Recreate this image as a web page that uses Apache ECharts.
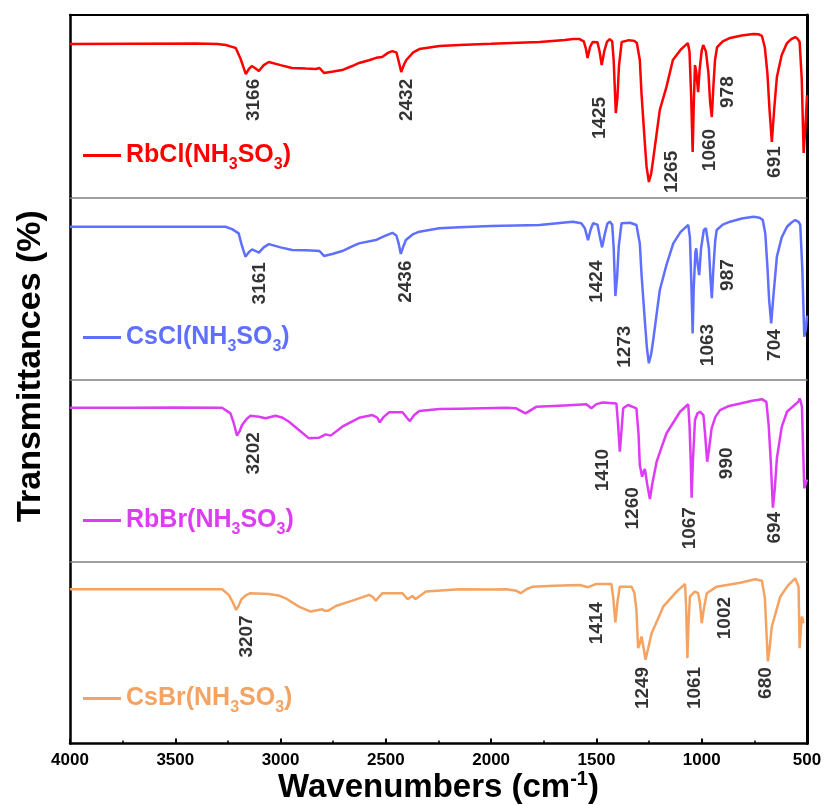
<!DOCTYPE html>
<html>
<head>
<meta charset="utf-8">
<title>FTIR spectra</title>
<script src="https://cdn.jsdelivr.net/npm/echarts@6.0.0/dist/echarts.min.js"></script>
<style>
  html, body { margin: 0; padding: 0; background: #fff; }
  #chart { width: 826px; height: 805px; }
</style>
</head>
<body>
<div id="chart"></div>
<script>
// series names and colours (top to bottom)
const names = ['RbCl(NH3SO3)', 'CsCl(NH3SO3)', 'RbBr(NH3SO3)', 'CsBr(NH3SO3)'];
const colors = ['#ff0000', '#5f6fff', '#dd3cf4', '#f4a362'];

// x axis ticks (wavenumbers, cm-1)
const xTicks = [4000, 3500, 3000, 2500, 2000, 1500, 1000, 500];

// spectra: [wavenumber, transmittance (a.u. within each panel)]
const rbcl = [
  [4000,84.1],[3700,84.2],[3400,84.3],[3300,84.1],[3260,83.5],[3230,82.5],[3213,81.9],[3190,76.0],[3165,67.6],
  [3150,70.5],[3137,72.0],[3120,70.8],[3103,69.3],[3080,72.5],[3056,74.2],[3000,72.5],[2946,70.9],[2880,70.6],
  [2832,70.4],[2815,70.9],[2794,68.2],[2750,69.0],[2708,69.8],[2660,72.0],[2627,73.7],[2580,75.2],[2546,76.5],
  [2518,77.0],[2490,79.2],[2470,80.2],[2450,79.5],[2440,75.0],[2427,68.7],[2415,72.5],[2403,75.3],[2370,79.5],
  [2341,81.3],[2245,83.0],[2150,83.6],[2000,84.2],[1770,85.2],[1650,86.3],[1610,86.8],[1580,86.8],[1560,85.5],
  [1550,81.5],[1542,76.4],[1530,82.5],[1518,85.2],[1495,85.0],[1485,80.0],[1475,72.5],[1462,80.5],[1450,85.3],
  [1437,86.8],[1425,85.5],[1418,75.0],[1408,46.2],[1400,55.0],[1393,72.0],[1380,85.2],[1345,86.2],[1320,85.8],
  [1308,84.6],[1294,75.3],[1286,57.0],[1270,29.6],[1262,16.8],[1251,8.4],[1240,13.0],[1231,20.4],[1214,35.0],
  [1199,47.9],[1167,60.7],[1137,75.3],[1100,81.0],[1066,84.6],[1058,80.0],[1050,55.0],[1043,24.8],[1038,50.0],
  [1032,72.5],[1026,69.0],[1017,57.7],[1010,70.0],[1000,80.5],[993,83.5],[980,80.0],[968,68.0],[960,52.0],
  [952,44.0],[945,60.0],[937,75.0],[927,82.4],[900,85.5],[865,87.4],[810,88.7],[755,89.6],[730,89.4],[714,88.5],
  [700,82.0],[688,68.0],[678,48.0],[667,30.3],[656,48.0],[643,66.0],[620,78.0],[595,84.6],[575,86.8],[556,87.9],
  [545,87.0],[535,85.2],[525,65.0],[516,24.3],[508,38.0],[500,56.0]
];
const cscl = [
  [4000,83.8],[3700,83.8],[3400,83.8],[3262,83.8],[3230,82.5],[3199,80.2],[3185,74.0],[3167,67.4],[3150,70.0],
  [3135,71.4],[3118,70.5],[3103,69.6],[3080,72.5],[3056,74.3],[3000,72.5],[2945,71.1],[2880,70.9],[2833,70.7],
  [2815,70.5],[2794,67.8],[2750,69.0],[2707,70.5],[2660,73.0],[2627,74.7],[2548,76.5],[2510,78.5],[2469,80.5],
  [2450,79.0],[2440,75.0],[2429,68.9],[2417,73.0],[2405,76.5],[2370,79.8],[2341,81.1],[2246,83.0],[2151,83.6],
  [2000,84.2],[1770,84.8],[1650,86.2],[1612,86.6],[1572,85.7],[1555,83.0],[1540,76.5],[1528,82.0],[1516,85.7],
  [1495,85.0],[1485,79.0],[1473,72.5],[1460,80.0],[1448,85.5],[1437,86.6],[1425,85.0],[1418,72.0],[1410,45.8],
  [1402,56.0],[1394,73.0],[1381,85.7],[1340,86.0],[1310,84.8],[1294,74.7],[1286,58.0],[1270,32.0],[1260,17.0],
  [1251,8.9],[1240,14.0],[1231,21.0],[1214,36.0],[1199,49.1],[1167,63.0],[1135,74.7],[1100,81.0],[1064,84.8],
  [1056,78.0],[1049,52.0],[1043,25.3],[1038,50.0],[1030,70.0],[1026,72.0],[1019,63.0],[1012,57.3],[1003,72.0],
  [990,82.0],[980,83.0],[966,72.0],[958,55.0],[952,44.6],[944,62.0],[936,76.0],[929,82.0],[900,85.0],[865,86.6],
  [810,88.3],[754,89.3],[725,88.8],[710,87.5],[698,80.0],[688,62.0],[680,44.0],[670,30.8],[658,48.0],[643,67.4],
  [620,78.0],[595,83.8],[575,86.0],[556,87.5],[540,86.5],[532,84.8],[522,60.0],[513,23.5],[505,28.0],[500,35.0]
];
const rbbr = [
  [4000,84.5],[3700,84.5],[3500,84.6],[3278,84.5],[3238,81.4],[3222,76.0],[3207,69.2],[3195,71.5],[3183,75.0],
  [3160,78.5],[3143,80.1],[3103,79.6],[3071,78.7],[3024,80.1],[2990,79.0],[2960,76.8],[2913,72.3],[2865,67.7],
  [2818,68.0],[2786,69.9],[2762,69.2],[2707,74.1],[2627,79.0],[2564,80.5],[2540,79.0],[2529,76.5],[2510,79.5],
  [2484,82.0],[2421,82.0],[2400,79.0],[2386,77.2],[2365,80.5],[2341,82.7],[2246,83.8],[2151,84.0],[1929,84.5],
  [1881,84.2],[1837,81.4],[1786,85.0],[1650,85.8],[1548,86.4],[1524,84.2],[1500,86.5],[1469,87.4],[1405,86.8],
  [1397,75.0],[1389,60.4],[1381,72.0],[1373,84.2],[1350,86.0],[1310,84.2],[1300,70.0],[1294,53.1],[1283,46.7],
  [1276,49.5],[1270,50.9],[1258,42.0],[1246,34.4],[1236,42.0],[1214,54.9],[1190,63.0],[1167,70.5],[1103,82.3],
  [1064,86.4],[1058,75.0],[1052,55.0],[1048,35.1],[1042,55.0],[1032,77.8],[1020,81.5],[1008,82.3],[992,80.5],
  [984,70.0],[974,54.9],[965,62.0],[953,73.2],[935,79.5],[913,83.2],[870,85.5],[817,86.8],[760,88.3],[714,89.2],
  [693,87.7],[682,75.0],[672,55.0],[662,29.7],[653,40.0],[643,56.8],[620,74.0],[595,82.3],[551,86.8],[540,88.0],
  [535,89.6],[530,88.0],[524,85.0],[518,60.0],[513,40.3],[500,45.0]
];
const csbr = [
  [4000,84.9],[3700,84.9],[3500,84.9],[3278,84.9],[3246,81.8],[3228,78.0],[3211,73.5],[3198,76.0],[3186,79.4],
  [3165,81.5],[3143,82.7],[3056,82.3],[3010,81.5],[2976,79.9],[2913,75.3],[2857,72.6],[2802,73.9],[2790,73.0],
  [2773,73.1],[2738,75.7],[2659,78.6],[2579,81.8],[2560,80.5],[2548,78.6],[2530,81.0],[2516,82.7],[2421,82.7],
  [2397,79.4],[2374,81.2],[2360,79.4],[2310,83.6],[2151,84.9],[2000,84.8],[1929,84.9],[1880,84.0],[1860,82.7],
  [1830,85.0],[1802,86.3],[1700,86.8],[1579,87.2],[1540,86.0],[1500,87.8],[1429,87.8],[1420,80.0],[1410,66.6],
  [1400,78.0],[1389,86.3],[1333,86.3],[1320,83.0],[1310,73.5],[1302,52.5],[1294,55.0],[1286,58.9],[1275,52.0],
  [1267,46.1],[1255,52.0],[1238,60.7],[1210,68.0],[1183,75.3],[1119,83.6],[1079,87.8],[1074,75.0],[1068,47.0],
  [1063,65.0],[1056,80.8],[1033,83.6],[1017,82.7],[1008,77.0],[1000,66.2],[990,74.0],[976,82.7],[929,86.3],
  [817,88.5],[746,90.4],[714,89.6],[700,80.0],[692,60.0],[686,45.2],[678,52.0],[667,64.4],[627,80.8],[590,87.0],
  [556,90.9],[540,86.3],[535,52.5],[528,65.0],[524,69.8],[516,66.2]
];
const spectra = [rbcl, cscl, rbbr, csbr];

// peak annotations: [wavenumber, transmittance, label]
const rbclPeaks = [[3127,53.4,'3166'],[2399,53.4,'2432'],[1484,43.5,'1425'],[1142,13.9,'1265'],[961,25.9,'1060'],[875,57.7,'978'],[651,19.3,'691']];
const csclPeaks = [[3097,52.8,'3161'],[2405,53.7,'2436'],[1500,53.7,'1424'],[1365,18.0,'1273'],[969,18.9,'1063'],[878,57.3,'987'],[651,18.9,'704']];
const rbbrPeaks = [[3127,59.5,'3202'],[1469,50.3,'1410'],[1326,29.3,'1260'],[1056,18.4,'1067'],[881,54.0,'990'],[651,18.7,'694']];
const csbrPeaks = [[3159,58.9,'3207'],[1500,66.2,'1414'],[1278,30.6,'1249'],[1032,30.6,'1061'],[889,69.0,'1002'],[698,33.3,'680']];
const peaks = [rbclPeaks, csclPeaks, rbbrPeaks, csbrPeaks];

const FONT = "'Liberation Sans', Arial, sans-serif";
const panelTop = 15, panelH = 182.25, legendTops = [138, 320, 503, 681];

const chart = echarts.init(document.getElementById('chart'), null, { renderer: 'canvas' });

const grids = [], xAxes = [], yAxes = [], series = [], legends = [];
names.forEach((name, i) => {
  const last = i === names.length - 1;
  grids.push({ left: 70, right: 19, top: panelTop + i * panelH, height: panelH });
  xAxes.push({
    gridIndex: i, type: 'value', min: xTicks[xTicks.length - 1], max: xTicks[0], interval: 500, inverse: true,
    position: 'bottom',
    axisLine: { onZero: false, lineStyle: { color: last ? '#000' : '#808080', width: last ? 2.5 : 1.5 } },
    axisTick: { show: last, inside: true, length: 5, lineStyle: { color: '#000', width: 2 } },
    minorTick: { show: last, splitNumber: 2, length: 3, lineStyle: { color: '#000', width: 1.5 } },
    axisLabel: { show: last, color: '#000', fontSize: 17, fontWeight: 'bold', fontFamily: FONT, margin: 8, formatter: v => String(v) },
    splitLine: { show: false },
    name: last ? '{b|Wavenumbers (cm}{sup|-1}{b|)}' : '',
    nameLocation: 'middle', nameGap: 25,
    nameTextStyle: {
      color: '#000', fontFamily: FONT, fontWeight: 'bold', fontSize: 33,
      rich: {
        b: { color: '#000', fontFamily: FONT, fontWeight: 'bold', fontSize: 33, lineHeight: 36 },
        sup: { color: '#000', fontFamily: FONT, fontWeight: 'bold', fontSize: 20, lineHeight: 14, verticalAlign: 'top' }
      }
    }
  });
  const yBase = { gridIndex: i, type: 'value', min: 0, max: 100, axisTick: { show: false }, axisLabel: { show: false }, splitLine: { show: false } };
  yAxes.push(Object.assign({}, yBase, { position: 'left', axisLine: { show: true, onZero: false, lineStyle: { color: '#000', width: 2.5 } } }));
  yAxes.push(Object.assign({}, yBase, { position: 'right', axisLine: { show: true, onZero: false, lineStyle: { color: '#000', width: 3 } } }));

  series.push({
    name: name, type: 'line', xAxisIndex: i, yAxisIndex: i * 2, data: spectra[i],
    showSymbol: false, symbol: 'none', color: colors[i], lineStyle: { color: colors[i], width: 2.5 }, z: 3
  });
  series.push({
    type: 'scatter', xAxisIndex: i, yAxisIndex: i * 2, data: peaks[i], symbolSize: 0, silent: true,
    label: {
      show: true, position: 'inside', rotate: 90, formatter: p => p.data[2],
      color: '#000', fontSize: 19, fontWeight: 'bold', fontFamily: FONT
    }
  });

  legends.push({
    data: [name], left: 78, top: legendTops[i], icon: 'rect', itemWidth: 38, itemHeight: 3,
    selectedMode: false,
    formatter: n => '{n|' + n.replace(/(\d)/g, '}{s|$1}{n|') + '}',
    textStyle: {
      color: colors[i], fontFamily: FONT, fontWeight: 'bold', fontSize: 25,
      rich: {
        n: { color: colors[i], fontFamily: FONT, fontWeight: 'bold', fontSize: 25, lineHeight: 34 },
        s: { color: colors[i], fontFamily: FONT, fontWeight: 'bold', fontSize: 16, lineHeight: 12, verticalAlign: 'bottom' }
      }
    }
  });
});

// top frame line
xAxes.push({
  gridIndex: 0, type: 'value', min: 500, max: 4000, inverse: true, position: 'top',
  axisLine: { onZero: false, lineStyle: { color: '#000', width: 2 } },
  axisTick: { show: false }, axisLabel: { show: false }, splitLine: { show: false }
});

chart.setOption({
  animation: false,
  backgroundColor: '#fff',
  grid: grids,
  xAxis: xAxes,
  yAxis: yAxes,
  legend: legends,
  series: series,
  graphic: [{
    type: 'text', x: 31, y: 366, rotation: Math.PI / 2,
    style: { text: 'Transmittances (%)', fill: '#000', font: "bold 34px " + FONT, textAlign: 'center', textVerticalAlign: 'middle' }
  }]
});
</script>
</body>
</html>
